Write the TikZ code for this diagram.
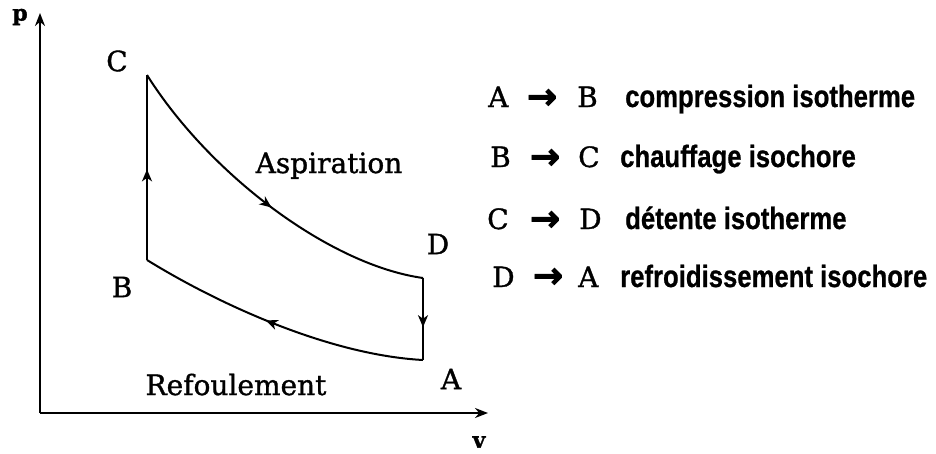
\documentclass[tikz,border=0pt]{standalone}
\usepackage{fontspec}
\usepackage{graphicx}
\setmainfont{DejaVu Serif}[RawFeature={embolden=1.2}]
\newfontfamily\descfont{Liberation Sans}[RawFeature={embolden=0.8}]
\newfontfamily\arrowfont{DejaVu Sans}[RawFeature={embolden=2.5}]
\usetikzlibrary{arrows.meta,decorations.markings}
\tikzset{
  ptlabel/.style={font=\fontsize{28}{30}\selectfont, inner sep=0pt},
  leglet/.style={font=\fontsize{28}{30}\selectfont, inner sep=0pt, anchor=base west},
  legdesc/.style={font=\descfont\bfseries\fontsize{25.7}{28}\selectfont, inner sep=0pt, anchor=base west},
  legarr/.style={font=\arrowfont\bfseries\fontsize{36}{38}\selectfont, inner sep=0pt},
  axislabel/.style={font=\bfseries\fontsize{22}{24}\selectfont, inner sep=0pt},
  axisline/.style={line width=2pt, -{Stealth[length=13pt,width=10pt]}},
  curve/.style={line width=2pt},
  midarrow/.style={postaction={decorate}, decoration={markings,
     mark=at position #1 with {\arrow{Stealth[length=12pt,width=10pt,inset=3.5pt]}}}},
}
\newcommand{\stretchy}[1]{\scalebox{1}[1.2]{#1}}
\begin{document}
\begin{tikzpicture}[x=1pt,y=-1pt]
\useasboundingbox (0,0) rectangle (936,453);
% axes
\coordinate (O) at (40,413);
\coordinate (Ptop) at (40,13);
\coordinate (Vend) at (488,413);
\draw[axisline] (O) -- (Ptop);
\draw[axisline] (O) -- (Vend);
\node[axislabel] (plab) at (20,17) {p};
\node[axislabel, anchor=north] (vlab) at (479,436) {v};
% cycle points
\coordinate (C) at (147,75);
\coordinate (B) at (147,260);
\coordinate (D) at (423,278);
\coordinate (A) at (423,360);
\draw[curve, midarrow=0.52] (C) .. controls (210,175) and (330,265) .. (D);
\draw[curve, midarrow=0.6] (D) -- (A);
\draw[curve, midarrow=0.55] (A) .. controls (330,355) and (220,305) .. (B);
\draw[curve, midarrow=0.49] (B) -- (C);
% point labels
\node[ptlabel] (Clab) at (117,61) {C};
\node[ptlabel] (Blab) at (122,287) {B};
\node[ptlabel] (Dlab) at (438,244) {D};
\node[ptlabel] (Alab) at (451,379) {A};
\node[ptlabel, anchor=base] (asp) at (329,173) {Aspiration};
\node[ptlabel, anchor=base] (ref) at (236,395) {Refoulement};
% legend
\node[leglet] (l1a) at (488,107) {A};
\node[legarr] (l1r) at (542,99) {→};
\node[leglet] (l1b) at (577,107) {B};
\node[legdesc] (l1t) at (625,107) {\stretchy{compression isotherme}};
\node[leglet] (l2a) at (490,167) {B};
\node[legarr] (l2r) at (545,159) {→};
\node[leglet] (l2b) at (578,167) {C};
\node[legdesc] (l2t) at (620,167) {\stretchy{chauffage isochore}};
\node[leglet] (l3a) at (487,229) {C};
\node[legarr] (l3r) at (545,221) {→};
\node[leglet] (l3b) at (579,229) {D};
\node[legdesc] (l3t) at (625,229) {\stretchy{détente isotherme}};
\node[leglet] (l4a) at (492,287) {D};
\node[legarr] (l4r) at (548,278) {→};
\node[leglet] (l4b) at (578,287) {A};
\node[legdesc] (l4t) at (620,287) {\stretchy{refroidissement isochore}};
\end{tikzpicture}
\end{document}
